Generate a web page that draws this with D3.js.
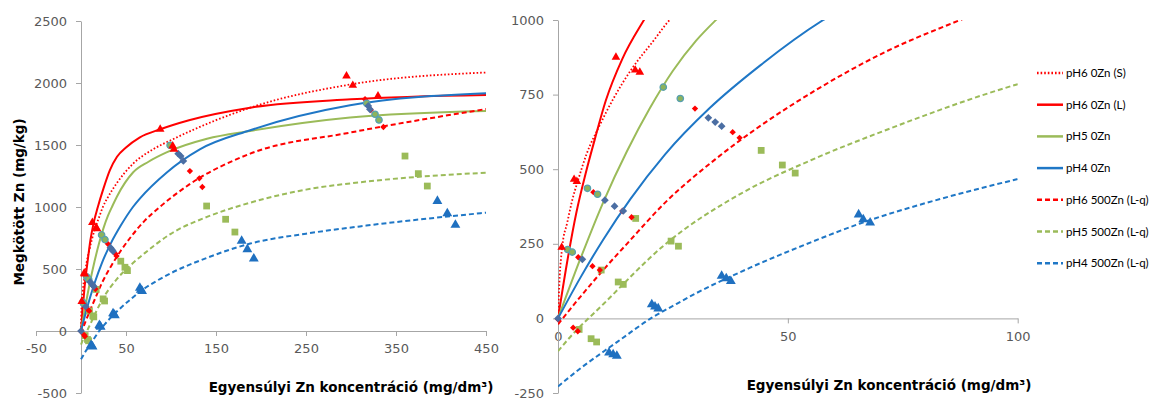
<!DOCTYPE html>
<meta charset="utf-8">
<html>
<head>
  <style>
    body { margin: 0; background: #fff; }
    .tick text { font-family: "DejaVu Sans", sans-serif; font-size: 13px; fill: #595959; }
    .tick line, .domain { stroke: #a6a6a6; stroke-width: 1; }
    .title { font-family: "DejaVu Sans", sans-serif; font-size: 13.5px; font-weight: bold; fill: #000; }
    .legend text { font-family: Lato, sans-serif; font-size: 11.5px; fill: #000; }
  </style>
  <script src="https://d3js.org/d3.v7.min.js"></script>
</head>
<body>
<svg width="1153" height="401"></svg>
<script>

  // fitted curves: [Zn concentration, bound Zn]
  var fitS_pH6_0   = [[0,0],[0.3,120],[0.94,242],[2,320],[3,390],[4.5,470],[6.2,550],[9,645],[12,735],[16,835],[21,935],[23.7,990],[30,1080],[40,1195],[58,1350],[80,1465],[102,1546],[150,1700],[188,1801],[300,1989],[450,2085]];
  var fitL_pH6_0   = [[0,0],[2,190],[4,355],[6,485],[8,600],[10.4,730],[14,870],[18.7,1000],[25,1150],[32,1295],[40,1405],[50,1480],[65,1560],[88,1627],[120,1700],[188,1801],[300,1868],[450,1903]];
  var fitL_pH5_0   = [[0,0],[5,205],[10,395],[15,560],[20,705],[25,830],[30,930],[35,1010],[40,1085],[58,1280],[75,1365],[95,1440],[140,1550],[188,1613],[299,1721],[451,1774]];
  var fitL_pH4_0   = [[0,0],[5,140],[10,268],[15.7,399],[23.3,550],[33,705],[44,848],[57.7,1000],[65.6,1070],[95,1277],[132,1465],[188,1619],[299,1820],[451,1917]];
  var fitLq_pH6_500 = [[0,-20],[5,75],[10,165],[15,250],[23.3,388],[34.2,533],[44,645],[56.3,767],[70.8,890],[87.5,1000],[120,1180],[188,1430],[299,1600],[450,1790]];
  var fitLq_pH5_500 = [[0,-110],[2.2,-70],[10,50],[23.3,248],[40,420],[55,530],[70.8,628],[99.8,784],[140,920],[188,1035],[250,1140],[317,1205],[451,1277]];
  var fitLq_pH4_500 = [[0,-228],[5,-166],[10,-110],[13.5,-72],[20.7,5],[25,42],[30,84],[41.8,170],[55,255],[65.7,318],[83.1,400],[99.8,466],[140,590],[188,705],[250,785],[317,850],[451,955]];

  // measured points
  var pts_pH6_0   = [[0.8,238],[3.5,466],[4.1,459],[12.6,875],[16.8,832],[17.8,825],[88,1627],[101.9,1492],[103.3,1465],[295,2056],[302,1981],[330,1895]];
  var pts_pH6_500 = [[0,-3],[3.3,-31],[4.3,-43],[4.4,205],[7.5,175],[9.1,162],[7.7,423],[14,360],[16,339],[29.8,703],[38,624],[39.5,605],[121,1290],[131.5,1231],[134.8,1161],[315.6,1869],[322,1782],[336,1645]];
  var pts_pH5_0   = [[2.1,231],[3.1,222],[6.4,436],[8.6,416],[22.9,775],[26.6,737],[99,1498],[317.4,1836],[326.7,1748],[331.1,1702]];
  var pts_pH4_0   = [[0,0],[5.3,198],[10.2,396],[12.3,376],[14.2,360],[32.7,672],[34.2,658],[35.6,644],[108,1430],[110.7,1411],[113.7,1371],[319.2,1815],[321,1788]];
  var pts_pH5_500 = [[4.6,-37],[7.2,-68],[8.4,-79],[9.4,162],[13.1,122],[14.2,114],[16.9,335],[24.6,259],[26.2,242],[44.2,563],[48.8,514],[51.6,487],[139.6,1008],[160.7,901],[171,798],[360,1411],[374.8,1269],[384.8,1169]];
  var pts_pH4_500 = [[11.1,-115],[12,-121],[12.8,-126],[20.4,47],[21.1,39],[21.8,33],[35.6,142],[36.6,134],[37.6,125],[65.4,348],[66.4,332],[67.9,321],[178.5,726],[184.8,659],[192,584],[396,1048],[407,949],[416,855]];

  // ticks
  var leftXTicks  = [-50, 50, 150, 250, 350, 450];
  var leftYTicks  = [-500, 0, 500, 1000, 1500, 2000, 2500];
  var rightXTicks = [0, 50, 100];
  var rightYTicks = [-250, 0, 250, 500, 750, 1000];

  var legendLabels = ["pH6 0Zn (S)", "pH6 0Zn (L)", "pH5 0Zn", "pH4 0Zn", "pH6 500Zn (L-q)", "pH5 500Zn (L-q)", "pH4 500Zn (L-q)"];
  var xTitle = "Egyensúlyi Zn koncentráció (mg/dm³)";
  var yTitle = "Megkötött Zn (mg/kg)";

  var RED = "#ff0000", GREEN = "#9bbb59", BLUE = "#1f77c6";

  var lines = [
      { data: fitS_pH6_0,    color: RED,   dash: "1.6,2", width: 1.8 },
      { data: fitL_pH6_0,    color: RED,   dash: null,    width: 2 },
      { data: fitL_pH5_0,    color: GREEN, dash: null,    width: 2 },
      { data: fitL_pH4_0,    color: BLUE,  dash: null,    width: 2 },
      { data: fitLq_pH6_500, color: RED,   dash: "5,3",   width: 2 },
      { data: fitLq_pH5_500, color: GREEN, dash: "5,3",   width: 2 },
      { data: fitLq_pH4_500, color: BLUE,  dash: "5,3",   width: 2 }
  ];

  var points = [
      { data: pts_pH5_500, type: d3.symbolSquare,   size: 46, fill: "#9bbb59", stroke: "none", rot: 0 },
      { data: pts_pH4_500, type: d3.symbolTriangle, size: 42, fill: "#1f70c0", stroke: "none", rot: 0 },
      { data: pts_pH6_500, type: d3.symbolSquare,   size: 20, fill: "#ff0000", stroke: "none", rot: 45 },
      { data: pts_pH5_0,   type: d3.symbolCircle,   size: 32, fill: "#8db35c", stroke: "#58a0b0", rot: 0 },
      { data: pts_pH4_0,   type: d3.symbolSquare,   size: 30, fill: "#4b6ea3", stroke: "none", rot: 45 },
      { data: pts_pH6_0,   type: d3.symbolTriangle, size: 32, fill: "#ff0000", stroke: "none", rot: 0 }
  ];

  var svg = d3.select("svg");

  var leftX = d3.scaleLinear().domain([-50, 450]).range([36, 486]),
      leftY = d3.scaleLinear().domain([-500, 2500]).range([393, 21]);
  var rightX = d3.scaleLinear().domain([0, 100]).range([558, 1017.7]),
      rightY = d3.scaleLinear().domain([-250, 1000]).range([393, 20]);

  // plain labels, hyphen minus and no thousands separator
  function plain(d) { return String(d); }

  function drawPanel(id, x, y, xTicks, yTicks) {
      var g = svg.append("g");

      g.append("clipPath")
       .attr("id", id)
       .append("rect")
       .attr("x", x.range()[0])
       .attr("y", y.range()[1])
       .attr("width", x.range()[1] - x.range()[0])
       .attr("height", y.range()[0] - y.range()[1]);

      g.append("g")
       .attr("transform", "translate(0," + y(0) + ")")
       .call(d3.axisBottom(x).tickValues(xTicks).tickFormat(plain).tickSize(5).tickSizeOuter(0).tickPadding(8));

      g.append("g")
       .attr("transform", "translate(" + x(0) + ",0)")
       .call(d3.axisLeft(y).tickValues(yTicks).tickFormat(plain).tickSize(5).tickSizeOuter(0).tickPadding(9));

      var line = d3.line()
          .curve(d3.curveMonotoneX)
          .x(function(d) { return x(d[0]); })
          .y(function(d) { return y(d[1]); });

      g.append("g")
       .attr("clip-path", "url(#" + id + ")")
       .selectAll("path")
       .data(lines)
       .enter().append("path")
       .attr("d", function(d) { return line(d.data); })
       .attr("fill", "none")
       .attr("stroke", function(d) { return d.color; })
       .attr("stroke-width", function(d) { return d.width; })
       .attr("stroke-dasharray", function(d) { return d.dash; });

      var xd = x.domain(), yd = y.domain();
      points.forEach(function(s) {
          var inside = s.data.filter(function(d) {
              return d[0] >= xd[0] && d[0] <= xd[1] && d[1] >= yd[0] && d[1] <= yd[1];
          });
          g.append("g")
           .selectAll("path")
           .data(inside)
           .enter().append("path")
           .attr("transform", function(d) { return "translate(" + x(d[0]) + "," + y(d[1]) + ") rotate(" + s.rot + ")"; })
           .attr("d", d3.symbol().type(s.type).size(s.size))
           .attr("fill", s.fill)
           .attr("stroke", s.stroke)
           .attr("stroke-width", 1.3);
      });
  }

  drawPanel("clipL", leftX, leftY, leftXTicks, leftYTicks);
  drawPanel("clipR", rightX, rightY, rightXTicks, rightYTicks);

  // axis titles
  svg.append("text")
     .attr("class", "title")
     .attr("x", 351)
     .attr("y", 392)
     .attr("text-anchor", "middle")
     .text(xTitle);

  svg.append("text")
     .attr("class", "title")
     .attr("x", 889)
     .attr("y", 390)
     .attr("text-anchor", "middle")
     .text(xTitle);

  svg.append("text")
     .attr("class", "title")
     .attr("transform", "translate(23.5,202) rotate(-90)")
     .attr("text-anchor", "middle")
     .text(yTitle);

  // legend
  var legend = svg.append("g").attr("class", "legend");
  var item = legend.selectAll("g")
      .data(lines)
      .enter().append("g")
      .attr("transform", function(d, i) { return "translate(1037," + (73 + i * 31.7) + ")"; });

  item.append("line")
      .attr("x1", 0).attr("x2", 26)
      .attr("stroke", function(d) { return d.color; })
      .attr("stroke-width", function(d) { return d.width + 0.5; })
      .attr("stroke-dasharray", function(d) { return d.dash; });

  item.append("text")
      .attr("x", 29)
      .attr("dy", "0.35em")
      .text(function(d, i) { return legendLabels[i]; });

</script>
</body>
</html>
